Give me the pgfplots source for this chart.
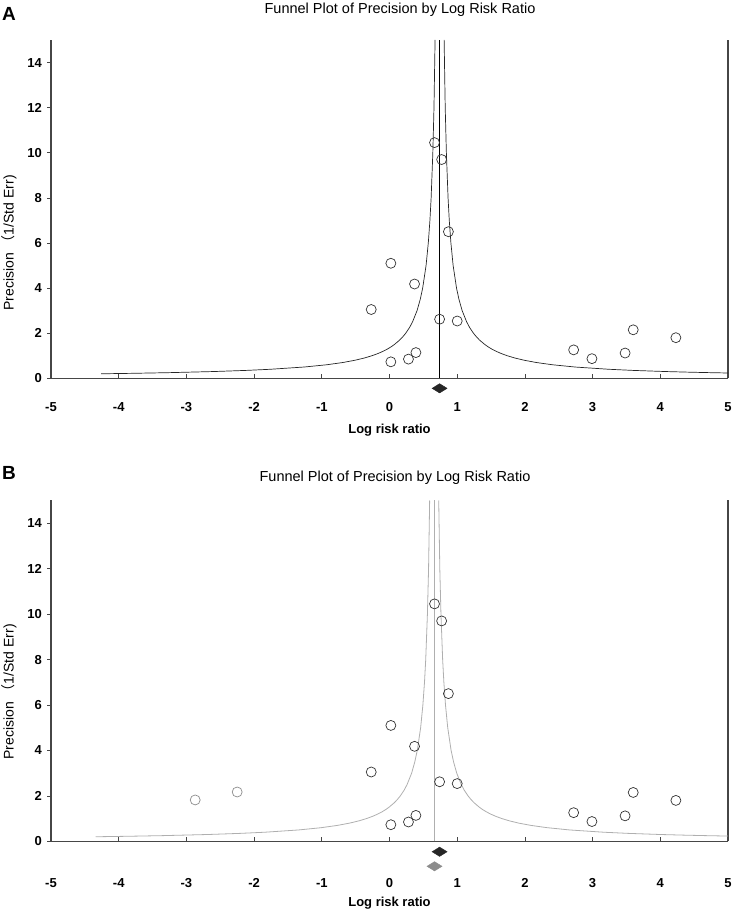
\documentclass[border=0pt]{standalone}
\usepackage{fontspec}
\setmainfont{Liberation Sans}
\newfontfamily\cjk{Noto Sans CJK SC}
\usepackage{pgfplots}
\pgfplotsset{compat=1.18}

\pgfdeclareplotmark{wdiamond}{%
  \pgfpathmoveto{\pgfqpoint{0pt}{0.62\pgfplotmarksize}}%
  \pgfpathlineto{\pgfqpoint{\pgfplotmarksize}{0pt}}%
  \pgfpathlineto{\pgfqpoint{0pt}{-0.62\pgfplotmarksize}}%
  \pgfpathlineto{\pgfqpoint{-\pgfplotmarksize}{0pt}}%
  \pgfpathclose
  \pgfusepathqfillstroke}

\definecolor{axgray}{RGB}{70,70,70}
\definecolor{lightln}{RGB}{175,175,175}
\definecolor{midgray}{RGB}{140,140,140}

\pgfplotsset{funnel/.style={
  scale only axis, width=677pt,
  xmin=-5, xmax=5, ymin=0, ymax=15,
  clip=false,
  axis x line*=bottom, axis y line*=left,
  axis line style={draw=axgray, line width=1.1pt},
  xtick={-5,-4,-3,-2,-1,0,1,2,3,4,5},
  xticklabels={-5,-4,-3,-2,-1,0,1,2,3,4,5},
  ytick={0,2,4,6,8,10,12,14},
  yticklabels={0,2,4,6,8,10,12,14},
  tick align=inside, major tick length=4pt,
  every tick/.style={draw=axgray, line width=0.7pt},
  ytick style={xshift=-4pt},
  xticklabel style={font=\fontsize{13}{15}\selectfont\bfseries, anchor=center, inner sep=0pt},
  yticklabel style={font=\fontsize{13}{15}\selectfont\bfseries, anchor=east, inner sep=0pt, xshift=-9pt},
  study/.style={only marks, mark=o, mark size=5pt, draw=black!80, line width=0.7pt},
}}

\begin{document}
\begin{tikzpicture}
\path[use as bounding box] (0,0) rectangle (733pt,911pt);

% ---------------- Panel A ----------------
\begin{axis}[funnel, height=338.3pt, at={(51pt,532.7pt)}, anchor=south west,
  xticklabel style={yshift=-29pt}]
\draw[axgray, line width=1.1pt] (rel axis cs:1,0) -- (rel axis cs:1,1);
% funnel, left limb
\addplot[black!85, line width=0.7pt] coordinates {
 (-4.26,0.2) (-3.805,0.22) (-3.26,0.25) (-2.593,0.3) (-2.117,0.35) (-1.76,0.4)
 (-1.26,0.5) (-0.927,0.6) (-0.689,0.7) (-0.51,0.8) (-0.371,0.9) (-0.26,1.0)
 (-0.169,1.1) (-0.093,1.2) (-0.029,1.3) (0.026,1.4) (0.073,1.5) (0.152,1.7)
 (0.199,1.85) (0.24,2) (0.296,2.25) (0.34,2.5) (0.407,3) (0.454,3.5) (0.49,4)
 (0.54,5) (0.573,6) (0.597,7) (0.615,8) (0.64,10) (0.657,12) (0.673,15)};
% funnel, right limb
\addplot[black!85, line width=0.7pt] coordinates {
 (0.807,15) (0.823,12) (0.84,10) (0.865,8) (0.883,7) (0.907,6) (0.94,5)
 (0.99,4) (1.026,3.5) (1.073,3) (1.14,2.5) (1.184,2.25) (1.24,2) (1.281,1.85)
 (1.328,1.7) (1.407,1.5) (1.454,1.4) (1.509,1.3) (1.573,1.2) (1.649,1.1)
 (1.74,1.0) (1.851,0.9) (1.99,0.8) (2.169,0.7) (2.407,0.6) (2.74,0.5)
 (3.24,0.4) (3.597,0.35) (4.073,0.3) (4.444,0.27) (4.74,0.25) (5.0,0.2347)};
% mean line
\addplot[black, line width=0.8pt] coordinates {(0.74,0) (0.74,15)};
% studies
\addplot[study] coordinates {
 (0.665,10.45) (0.77,9.7) (0.87,6.5) (0.02,5.1) (0.37,4.18) (0.74,2.62)
 (1.0,2.54) (-0.27,3.05) (0.39,1.14) (0.28,0.85) (0.02,0.73)
 (2.72,1.26) (2.99,0.87) (3.48,1.12) (3.6,2.15) (4.23,1.8)};
% combined effect
\addplot[only marks, mark=wdiamond, mark size=7.5pt, draw=black!85, fill=black!85] coordinates {(0.74,-0.445)};
\end{axis}

\node[font=\fontsize{19}{21}\selectfont\bfseries] at (9pt,897pt) {A};
\node[font=\fontsize{14.5}{16}\selectfont] at (400pt,901.6pt) {Funnel Plot of Precision by Log Risk Ratio};
\node[font=\fontsize{13}{15}\selectfont\bfseries] at (389.5pt,481pt) {Log risk ratio};
\node[font=\fontsize{14}{16}\selectfont, rotate=90] at (9pt,668pt) {Precision {\cjk （}1/Std Err)};

% ---------------- Panel B ----------------
\begin{axis}[funnel, height=340.8pt, at={(51pt,69.7pt)}, anchor=south west,
  xticklabel style={yshift=-42pt}]
\draw[axgray, line width=1.1pt] (rel axis cs:1,0) -- (rel axis cs:1,1);
\addplot[lightln, line width=0.8pt] coordinates {
 (-4.34,0.2) (-3.885,0.22) (-3.34,0.25) (-2.673,0.3) (-2.197,0.35) (-1.84,0.4)
 (-1.34,0.5) (-1.007,0.6) (-0.769,0.7) (-0.59,0.8) (-0.451,0.9) (-0.34,1.0)
 (-0.249,1.1) (-0.173,1.2) (-0.109,1.3) (-0.054,1.4) (-0.007,1.5) (0.072,1.7)
 (0.119,1.85) (0.16,2) (0.216,2.25) (0.26,2.5) (0.327,3) (0.374,3.5) (0.41,4)
 (0.46,5) (0.493,6) (0.517,7) (0.535,8) (0.56,10) (0.577,12) (0.593,15)};
\addplot[lightln, line width=0.8pt] coordinates {
 (0.727,15) (0.743,12) (0.76,10) (0.785,8) (0.803,7) (0.827,6) (0.86,5)
 (0.91,4) (0.946,3.5) (0.993,3) (1.06,2.5) (1.104,2.25) (1.16,2) (1.201,1.85)
 (1.248,1.7) (1.327,1.5) (1.374,1.4) (1.429,1.3) (1.493,1.2) (1.569,1.1)
 (1.66,1.0) (1.771,0.9) (1.91,0.8) (2.089,0.7) (2.327,0.6) (2.66,0.5)
 (3.16,0.4) (3.517,0.35) (3.993,0.3) (4.364,0.27) (4.66,0.25) (5.0,0.2304)};
\addplot[lightln, line width=1.6pt] coordinates {(0.665,0) (0.665,15)};
\addplot[study] coordinates {
 (0.665,10.45) (0.77,9.7) (0.87,6.5) (0.02,5.1) (0.37,4.18) (0.74,2.62)
 (1.0,2.54) (-0.27,3.05) (0.39,1.14) (0.28,0.85) (0.02,0.73)
 (2.72,1.26) (2.99,0.87) (3.48,1.12) (3.6,2.15) (4.23,1.8)};
% imputed studies
\addplot[only marks, mark=o, mark size=5pt, draw=midgray, line width=0.7pt] coordinates {
 (-2.87,1.82) (-2.25,2.17)};
\addplot[only marks, mark=wdiamond, mark size=7.5pt, draw=black!85, fill=black!85] coordinates {(0.74,-0.46)};
\addplot[only marks, mark=wdiamond, mark size=7.5pt, draw=midgray, fill=midgray] coordinates {(0.665,-1.1)};
\end{axis}

\node[font=\fontsize{19}{21}\selectfont\bfseries] at (9pt,438pt) {B};
\node[font=\fontsize{14.5}{16}\selectfont] at (395pt,433.4pt) {Funnel Plot of Precision by Log Risk Ratio};
\node[font=\fontsize{13}{15}\selectfont\bfseries] at (389.5pt,7.5pt) {Log risk ratio};
\node[font=\fontsize{14}{16}\selectfont, rotate=90] at (9pt,219pt) {Precision {\cjk （}1/Std Err)};
\end{tikzpicture}
\end{document}
